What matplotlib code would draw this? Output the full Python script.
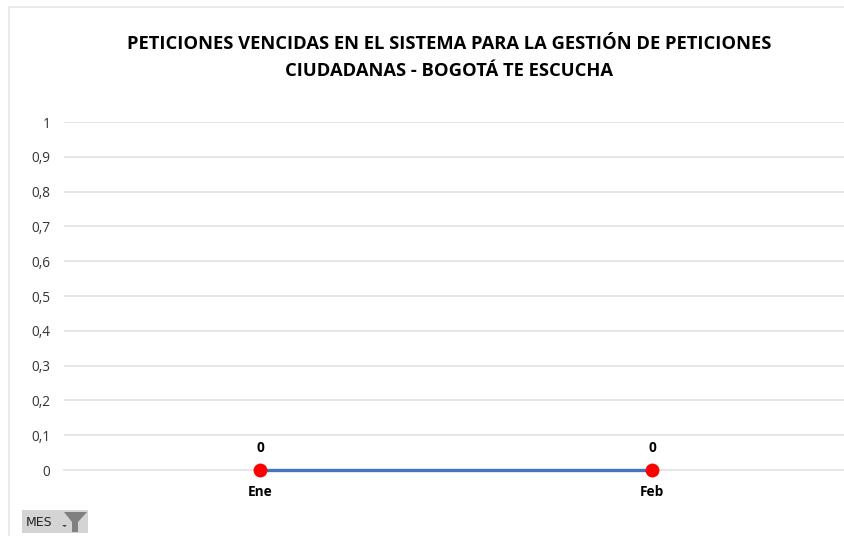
import matplotlib
matplotlib.use("Agg")
import matplotlib.pyplot as plt
from matplotlib.patches import Rectangle, Polygon
from matplotlib.lines import Line2D

meses = ["Ene", "Feb"]
valores = [0, 0]
y_ticks = [0, 0.1, 0.2, 0.3, 0.4, 0.5, 0.6, 0.7, 0.8, 0.9, 1]
y_labels = ["0", "0,1", "0,2", "0,3", "0,4", "0,5", "0,6", "0,7", "0,8", "0,9", "1"]
titulo = "PETICIONES VENCIDAS EN EL SISTEMA PARA LA GESTIÓN DE PETICIONES\nCIUDADANAS - BOGOTÁ TE ESCUCHA"

W, H = 845, 536
plt.rcParams["font.family"] = ["Open Sans", "DejaVu Sans"]

fig = plt.figure(figsize=(W / 100, H / 100), dpi=100)
ax = fig.add_axes([64 / W, 1 - 470 / H, 784 / W, 348 / H])
x = list(range(len(meses)))

ax.plot(x, valores, color="#4472C4", lw=2.4, zorder=3, clip_on=False)
ax.plot(x, valores, "o", color="#FF0000", ms=10, mew=0, zorder=4, clip_on=False)
for i, v in zip(x, valores):
    ax.annotate(str(v), (i, v), xytext=(0, 10.5), textcoords="offset points",
                ha="center", va="bottom", fontsize=9.8, fontweight="bold", color="black")

ax.set_xlim(-0.5, 1.5)
ax.set_ylim(0, 1)
ax.set_xticks(x)
ax.set_xticklabels(meses, fontsize=9.8, fontweight="bold", color="black")
ax.set_yticks(y_ticks)
ax.set_yticklabels(y_labels, fontsize=9.8, color="#333333")
ax.tick_params(axis="both", length=0)
ax.tick_params(axis="x", pad=11)
ax.tick_params(axis="y", pad=10)
ax.grid(axis="y", color="#DEDEDE", lw=1.1)
ax.set_axisbelow(True)
for s in ax.spines.values():
    s.set_visible(False)
ax.get_ygridlines()[0].set_clip_on(False)

fig.text(449 / W, 1 - 57.5 / H, titulo, ha="center", va="center", fontsize=13.2,
         fontweight="bold", color="black", linespacing=1.65)

# borde del area del grafico
fig.add_artist(Line2D([9 / W, 9 / W, 1], [0, 1 - 7 / H, 1 - 7 / H], color="#E6E6E6", lw=1.2))

# boton de filtro MES
fig.add_artist(Rectangle((22 / W, 1 - 533 / H), 66 / W, 23 / H, color="#D4D4D4", lw=0))
fig.text(26 / W, 1 - 522 / H, "MES", family="DejaVu Sans", fontsize=9, va="center", color="#222222")
fig.add_artist(Polygon([(62 / W, 1 - 525 / H), (67 / W, 1 - 525 / H), (64.5 / W, 1 - 527 / H)],
                       color="#444444", lw=0))
fig.add_artist(Polygon([(64 / W, 1 - 512 / H), (87 / W, 1 - 512 / H), (78 / W, 1 - 522 / H),
                        (78 / W, 1 - 532 / H), (72 / W, 1 - 532 / H), (72 / W, 1 - 522 / H)],
                       color="#808080", lw=0))

plt.savefig("out.png", dpi=100)
